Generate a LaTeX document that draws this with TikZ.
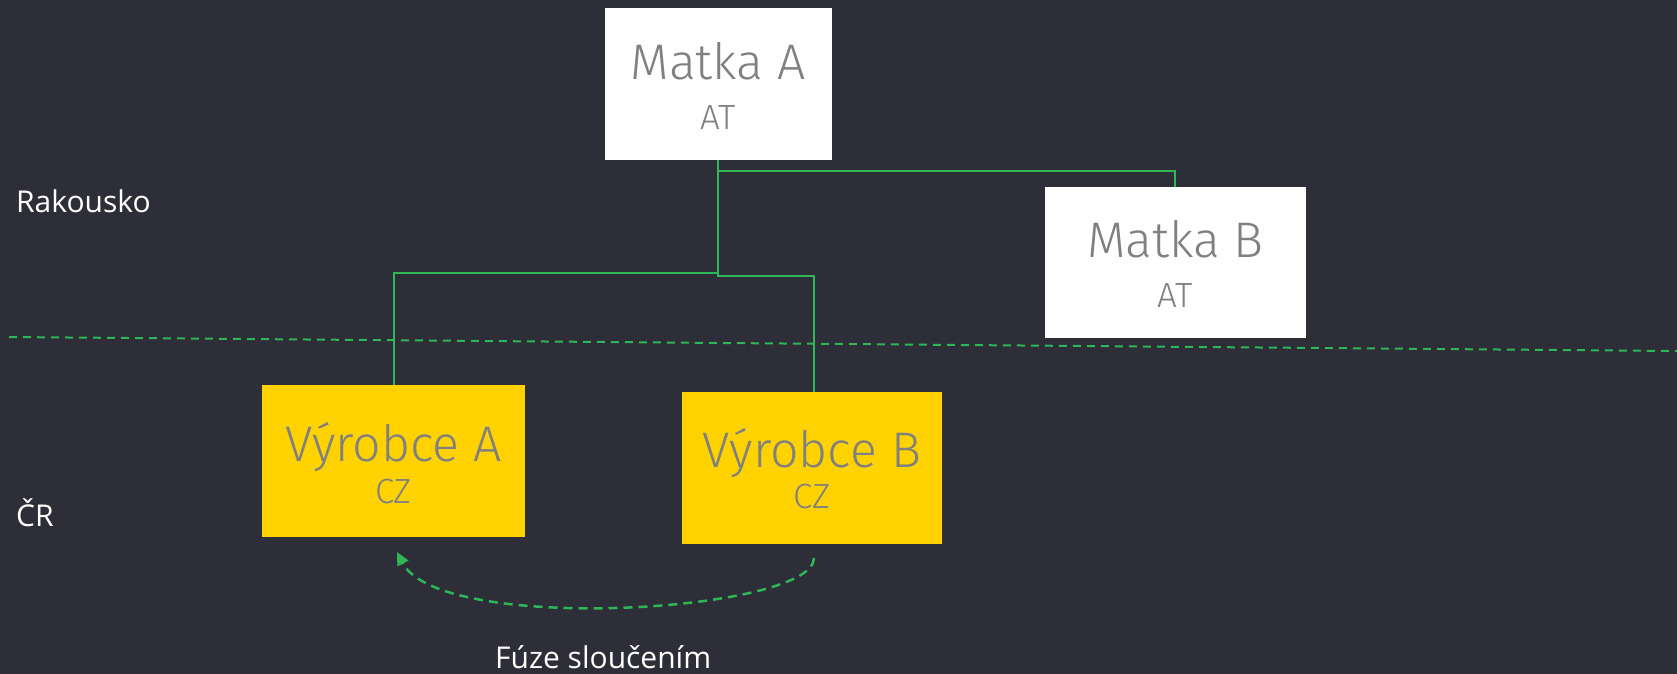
\documentclass[tikz,border=0pt]{standalone}
\usepackage{fontspec}
\setmainfont{Open Sans}
\newfontfamily\boxfont{Fira Sans Light}
\usetikzlibrary{arrows.meta}
\definecolor{bgc}{HTML}{2E2E38}
\definecolor{eyyellow}{HTML}{FFD200}
\definecolor{eygreen}{HTML}{2DB757}
\definecolor{txtgray}{HTML}{808080}
\tikzset{
  whitebox/.style={fill=white, draw=none, inner sep=0pt},
  yellowbox/.style={fill=eyyellow, draw=none, inner sep=0pt},
  bigtext/.style={anchor=base, inner sep=0pt, text=txtgray, font=\boxfont\fontsize{50}{60}\selectfont},
  smalltext/.style={anchor=base, inner sep=0pt, text=txtgray, font=\boxfont\fontsize{35}{40}\selectfont},
  sidelabel/.style={anchor=base west, inner sep=0pt, text=white, font=\fontsize{30}{36}\selectfont},
  conn/.style={draw=eygreen, line width=1.6pt},
  sep/.style={draw=eygreen, line width=2pt, dash pattern=on 8pt off 6pt},
  merge/.style={draw=eygreen, line width=2.5pt, dash pattern=on 9pt off 6pt, -{Triangle[length=13pt,width=12pt]}}
}
\begin{document}
\begin{tikzpicture}[x=1pt, y=-1pt]
\fill[bgc] (0,0) rectangle (1677,674);
\useasboundingbox (0,0) rectangle (1677,674);

% separator
\coordinate (sepL) at (9,337);
\coordinate (sepR) at (1677,351);
\draw[sep] (sepL) -- (sepR);

% boxes
\node[whitebox, minimum width=227pt, minimum height=152pt] (mA) at (718,84) {};
\node[whitebox, minimum width=261pt, minimum height=151pt] (mB) at (1175.5,262.5) {};
\node[yellowbox, minimum width=263pt, minimum height=152pt] (vA) at (393.5,461) {};
\node[yellowbox, minimum width=260pt, minimum height=152pt] (vB) at (812,468) {};

% box texts
\node[bigtext] (tA1) at (718,80) {Matka A};
\node[smalltext] (tA2) at (718,129) {AT};
\node[bigtext] (tB1) at (1175.5,257) {Matka B};
\node[smalltext] (tB2) at (1175.5,307) {AT};
\node[bigtext] (tC1) at (393.5,461) {Výrobce A};
\node[smalltext] (tC2) at (393.5,503) {CZ};
\node[bigtext] (tD1) at (812,467) {Výrobce B};
\node[smalltext] (tD2) at (812,508) {CZ};

% connectors
\coordinate (jB) at (1175,171);
\coordinate (jVA) at (394,273);
\coordinate (jVB) at (814,276);
\draw[conn] (mA.south) |- (jB) -- (jB |- mB.north);
\draw[conn] (mA.south) |- (jVA) -- (jVA |- vA.north);
\draw[conn] (mA.south) |- (jVB) -- (jVB |- vB.north);

% merge arrow
\coordinate (mStart) at (814,558);
\coordinate (mEnd) at (397,552);
\draw[merge] (mStart) .. controls (814,612) and (440,635) .. (mEnd);

% labels
\node[sidelabel] (lAT) at (16,212) {Rakousko};
\node[sidelabel] (lCZ) at (16,526) {ČR};
\node[sidelabel] (lFuze) at (495,668) {Fúze sloučením};
\end{tikzpicture}
\end{document}
